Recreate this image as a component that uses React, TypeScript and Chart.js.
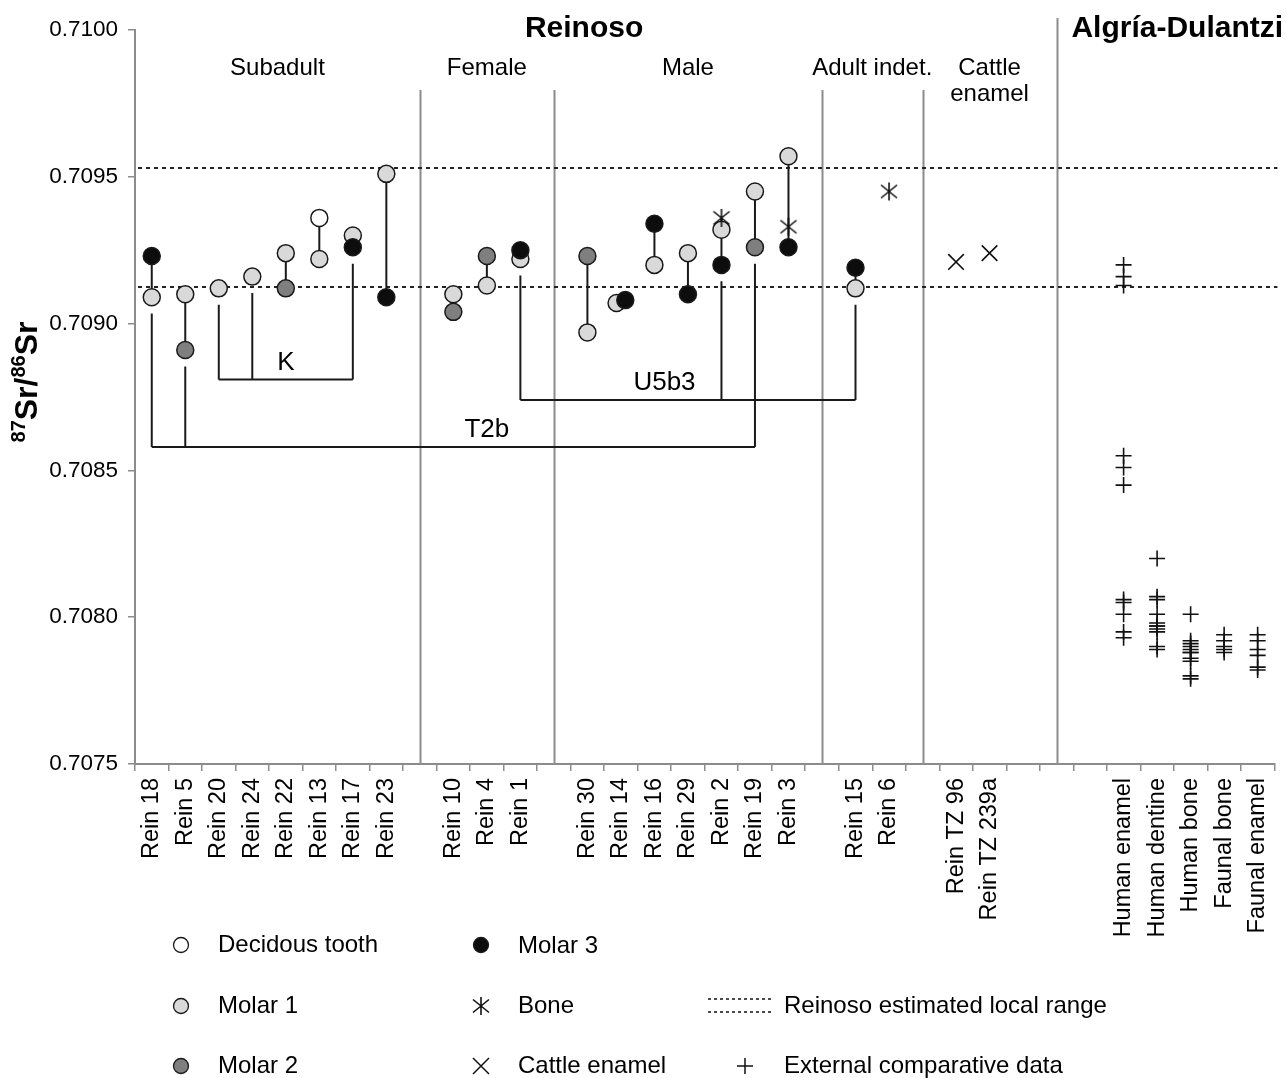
import React, { useEffect, useRef } from 'react';
import { Chart, registerables } from 'chart.js';

Chart.register(...registerables);

// ---------- data ----------
const categories: string[] = [
  'Rein 18', 'Rein 5', 'Rein 20', 'Rein 24', 'Rein 22', 'Rein 13', 'Rein 17', 'Rein 23', '',
  'Rein 10', 'Rein 4', 'Rein 1', '',
  'Rein 30', 'Rein 14', 'Rein 16', 'Rein 29', 'Rein 2', 'Rein 19', 'Rein 3', '',
  'Rein 15', 'Rein 6', '',
  'Rein TZ 96', 'Rein TZ 239a', '', '', '',
  'Human enamel', 'Human dentine', 'Human bone', 'Faunal bone', 'Faunal enamel',
];

const yTicks: number[] = [0.7075, 0.708, 0.7085, 0.709, 0.7095, 0.71];

type Pt = [string, number];

const decidous: Pt[] = [['Rein 13', 0.70936]];

const molar1: Pt[] = [
  ['Rein 18', 0.70909], ['Rein 5', 0.7091], ['Rein 20', 0.70912], ['Rein 24', 0.70916],
  ['Rein 22', 0.70924], ['Rein 13', 0.70922], ['Rein 17', 0.7093], ['Rein 23', 0.70951],
  ['Rein 10', 0.7091], ['Rein 4', 0.70913], ['Rein 1', 0.70922], ['Rein 30', 0.70897],
  ['Rein 14', 0.70907], ['Rein 16', 0.7092], ['Rein 29', 0.70924], ['Rein 2', 0.70932],
  ['Rein 19', 0.70945], ['Rein 3', 0.70957], ['Rein 15', 0.70912],
];

const molar2: Pt[] = [
  ['Rein 5', 0.70891], ['Rein 22', 0.70912], ['Rein 10', 0.70904], ['Rein 4', 0.70923],
  ['Rein 30', 0.70923], ['Rein 19', 0.70926],
];

const molar3: Pt[] = [
  ['Rein 18', 0.70923], ['Rein 17', 0.70926], ['Rein 23', 0.70909], ['Rein 1', 0.70925],
  ['Rein 14', 0.70908], ['Rein 16', 0.70934], ['Rein 29', 0.7091], ['Rein 2', 0.7092],
  ['Rein 3', 0.70926], ['Rein 15', 0.70919],
];

const bone: Pt[] = [['Rein 2', 0.70936], ['Rein 3', 0.70933], ['Rein 6', 0.70945]];

const cattleEnamel: Pt[] = [['Rein TZ 96', 0.70921], ['Rein TZ 239a', 0.70924]];

const humanEnamel: number[] = [0.7092, 0.70916, 0.70913, 0.70855, 0.70851, 0.70845, 0.70806, 0.70805, 0.70801, 0.70795, 0.70793];
const humanDentine: number[] = [0.7082, 0.70807, 0.70806, 0.70801, 0.70798, 0.70797, 0.70797, 0.70796, 0.70795, 0.7079, 0.70789];
const humanBone: number[] = [0.70801, 0.70792, 0.70791, 0.7079, 0.70789, 0.70788, 0.70788, 0.70786, 0.70785, 0.7078, 0.70779];
const faunalBone: number[] = [0.70794, 0.70792, 0.7079, 0.70789, 0.70788];
const faunalEnamel: number[] = [0.70794, 0.70792, 0.70789, 0.70787, 0.70783, 0.70782];

const externalSets: [string, number[]][] = [
  ['Human enamel', humanEnamel], ['Human dentine', humanDentine], ['Human bone', humanBone],
  ['Faunal bone', faunalBone], ['Faunal enamel', faunalEnamel],
];

const localRange: number[] = [0.709125, 0.70953];

const haplogroups = [
  { name: 'K', members: ['Rein 20', 'Rein 24', 'Rein 17'], level: 0.70881 },
  { name: 'T2b', members: ['Rein 18', 'Rein 5', 'Rein 19'], level: 0.70858 },
  { name: 'U5b3', members: ['Rein 1', 'Rein 2', 'Rein 15'], level: 0.70874 },
];
const haploLabelAt: number[] = [4.0, 10.0, 15.3];

const groupLabels: string[][] = [['Subadult'], ['Female'], ['Male'], ['Adult indet.'], ['Cattle', 'enamel']];
const separatorIdx: number[] = [8, 12, 20, 23, 27];
const siteTitles: string[] = ['Reinoso', 'Algría-Dulantzi'];
const siteTitleAt: number[] = [12.9, 30.6];

// small horizontal nudge of overlapping markers (category units)
const nudge: Record<string, number> = { 'Rein 14|m1': -0.13, 'Rein 14|m3': 0.13 };

// ---------- styles ----------
const FONT = "'Liberation Sans', Arial, sans-serif";
const AXIS_GRAY = '#8c8c8c';
const INK = '#111111';
const C_WHITE = '#ffffff';
const C_M1 = '#d9d9d9';
const C_M2 = '#7f7f7f';
const C_M3 = '#0d0d0d';

function makeBoneImage(color: string): HTMLCanvasElement {
  const size = 22;
  const c = document.createElement('canvas');
  c.width = size;
  c.height = size;
  const g = c.getContext('2d')!;
  g.strokeStyle = color;
  g.lineWidth = 1.6;
  const m = size / 2;
  g.beginPath();
  g.moveTo(m, m - 9); g.lineTo(m, m + 9);
  g.moveTo(m - 8, m - 6.5); g.lineTo(m + 8, m + 6.5);
  g.moveTo(m + 8, m - 6.5); g.lineTo(m - 8, m + 6.5);
  g.stroke();
  return c;
}

const idx = (c: string) => categories.indexOf(c);

export default function App() {
  const ref = useRef<HTMLCanvasElement>(null);

  useEffect(() => {
    const canvas = ref.current!;
    const boneImg = makeBoneImage(INK);

    const toPts = (arr: Pt[], key: string) =>
      arr.map(([c, v]) => ({ x: idx(c) + (nudge[`${c}|${key}`] ?? 0), y: v }));

    const circleSet = (label: string, data: any[], fill: string, order: number) => ({
      label, data, showLine: false, order,
      pointStyle: 'circle', pointRadius: 8.5, pointHoverRadius: 8.5,
      pointBackgroundColor: fill, pointBorderColor: '#1a1a1a', pointBorderWidth: 1.5,
      xAxisID: 'xv',
    });

    const lineSet = (data: any[]) => ({
      data, showLine: true, pointRadius: 0, borderColor: '#1a1a1a', borderWidth: 2,
      order: 10, xAxisID: 'xv', fill: false, tension: 0,
    });

    const reinAll: Pt[] = [...decidous, ...molar1, ...molar2, ...molar3, ...bone];
    const valsOf = (c: string) => reinAll.filter((p) => p[0] === c).map((p) => p[1]);
    const reinCats = Array.from(new Set(reinAll.map((p) => p[0])));

    const connectors = reinCats
      .filter((c) => valsOf(c).length > 1)
      .map((c) => lineSet([
        { x: idx(c), y: Math.min(...valsOf(c)) },
        { x: idx(c), y: Math.max(...valsOf(c)) },
      ]));

    const gapBelow = 0.000056;
    const brackets: any[] = [];
    haplogroups.forEach((h) => {
      h.members.forEach((m) => {
        brackets.push(lineSet([
          { x: idx(m), y: Math.min(...valsOf(m)) - gapBelow },
          { x: idx(m), y: h.level },
        ]));
      });
      const ids = h.members.map(idx);
      brackets.push(lineSet([
        { x: Math.min(...ids), y: h.level },
        { x: Math.max(...ids), y: h.level },
      ]));
    });

    const externalData = externalSets.flatMap(([c, vals]) => vals.map((v) => ({ x: idx(c), y: v })));

    const datasets: any[] = [
      circleSet('Decidous tooth', toPts(decidous, 'd'), C_WHITE, 4),
      circleSet('Molar 1', toPts(molar1, 'm1'), C_M1, 3),
      circleSet('Molar 2', toPts(molar2, 'm2'), C_M2, 2),
      circleSet('Molar 3', toPts(molar3, 'm3'), C_M3, 1),
      {
        label: 'Bone', data: toPts(bone, 'b'), showLine: false, order: 0, xAxisID: 'xv',
        pointStyle: boneImg, pointRadius: 10,
      },
      {
        label: 'Cattle enamel', data: toPts(cattleEnamel, 'c'), showLine: false, order: 0, xAxisID: 'xv',
        pointStyle: 'crossRot', pointRadius: 11, pointBorderColor: INK, pointBorderWidth: 1.6,
        pointBackgroundColor: INK,
      },
      {
        label: 'External comparative data', data: externalData, showLine: false, order: 0, xAxisID: 'xv',
        pointStyle: 'cross', pointRadius: 8, pointBorderColor: INK, pointBorderWidth: 1.6,
        pointBackgroundColor: INK,
      },
      ...connectors,
      ...brackets,
    ];

    const drawCircle = (ctx: CanvasRenderingContext2D, x: number, y: number, r: number, fill: string) => {
      ctx.beginPath();
      ctx.arc(x, y, r, 0, Math.PI * 2);
      ctx.fillStyle = fill;
      ctx.fill();
      ctx.lineWidth = 1.3;
      ctx.strokeStyle = '#1a1a1a';
      ctx.stroke();
    };

    const decor = {
      id: 'decor',
      beforeDatasetsDraw(chart: any) {
        const ctx: CanvasRenderingContext2D = chart.ctx;
        const xs = chart.scales.xv;
        const ys = chart.scales.y;
        const { left, right, top, bottom } = chart.chartArea;
        ctx.save();
        // separators
        ctx.strokeStyle = AXIS_GRAY;
        ctx.lineWidth = 2;
        separatorIdx.forEach((i, k) => {
          const x = Math.round(xs.getPixelForValue(i)) + 0.5;
          const y0 = k === separatorIdx.length - 1 ? top - 12 : top + 60;
          ctx.beginPath();
          ctx.moveTo(x, y0);
          ctx.lineTo(x, bottom);
          ctx.stroke();
        });
        // local range dotted lines
        ctx.strokeStyle = '#222';
        ctx.lineWidth = 2;
        ctx.setLineDash([4, 4]);
        localRange.forEach((v) => {
          const y = Math.round(ys.getPixelForValue(v));
          ctx.beginPath();
          ctx.moveTo(left + 3, y);
          ctx.lineTo(right + 3, y);
          ctx.stroke();
        });
        ctx.restore();
      },
      afterDraw(chart: any) {
        const ctx: CanvasRenderingContext2D = chart.ctx;
        const xs = chart.scales.xv;
        const ys = chart.scales.y;
        const { left, top } = chart.chartArea;
        ctx.save();
        ctx.fillStyle = '#000';
        ctx.textAlign = 'center';
        ctx.textBaseline = 'middle';

        // site titles
        ctx.font = `bold 30px ${FONT}`;
        siteTitles.forEach((t, i) => ctx.fillText(t, xs.getPixelForValue(siteTitleAt[i]), top - 1));

        // group labels
        ctx.font = `24px ${FONT}`;
        const bounds = [left, ...separatorIdx.map((i) => xs.getPixelForValue(i))];
        groupLabels.forEach((lines, i) => {
          const cx = (bounds[i] + bounds[i + 1]) / 2;
          lines.forEach((ln, j) => ctx.fillText(ln, cx, top + 38 + j * 26));
        });

        // haplogroup labels
        ctx.font = `26px ${FONT}`;
        haplogroups.forEach((h, i) => {
          ctx.fillText(h.name, xs.getPixelForValue(haploLabelAt[i]), ys.getPixelForValue(h.level) - 17);
        });

        // y-axis title 87Sr/86Sr
        ctx.save();
        ctx.translate(37, 382);
        ctx.rotate(-Math.PI / 2);
        ctx.textAlign = 'left';
        ctx.textBaseline = 'alphabetic';
        const big = `bold 32px ${FONT}`;
        const sup = `bold 20px ${FONT}`;
        const parts: [string, string, number][] = [
          ['87', sup, -12], ['Sr/', big, 0], ['86', sup, -12], ['Sr', big, 0],
        ];
        let total = 0;
        parts.forEach(([s, f]) => { ctx.font = f; total += ctx.measureText(s).width; });
        let cx = -total / 2;
        parts.forEach(([s, f, dy]) => {
          ctx.font = f;
          ctx.fillText(s, cx, dy);
          cx += ctx.measureText(s).width;
        });
        ctx.restore();

        // legend
        ctx.textAlign = 'left';
        ctx.textBaseline = 'middle';
        ctx.font = `24px ${FONT}`;
        const rows = [945, 1006, 1066];
        const col1 = 181, col2 = 481;
        drawCircle(ctx, col1, rows[0], 7.5, C_WHITE);
        drawCircle(ctx, col1, rows[1], 7.5, C_M1);
        drawCircle(ctx, col1, rows[2], 7.5, C_M2);
        drawCircle(ctx, col2, rows[0], 7.5, C_M3);
        ctx.fillStyle = '#000';
        ctx.fillText('Decidous tooth', 218, rows[0]);
        ctx.fillText('Molar 1', 218, rows[1]);
        ctx.fillText('Molar 2', 218, rows[2]);
        ctx.fillText('Molar 3', 518, rows[0] + 1);
        ctx.drawImage(boneImg, col2 - 11, rows[1] - 11);
        ctx.fillText('Bone', 518, rows[1]);
        ctx.strokeStyle = INK;
        ctx.lineWidth = 1.5;
        ctx.beginPath();
        ctx.moveTo(col2 - 8, rows[2] - 8); ctx.lineTo(col2 + 8, rows[2] + 8);
        ctx.moveTo(col2 + 8, rows[2] - 8); ctx.lineTo(col2 - 8, rows[2] + 8);
        ctx.stroke();
        ctx.fillText('Cattle enamel', 518, rows[2]);
        ctx.setLineDash([3, 3]);
        ctx.lineWidth = 1.5;
        [rows[1] - 7, rows[1] + 6].forEach((y) => {
          ctx.beginPath();
          ctx.moveTo(708, y); ctx.lineTo(771, y);
          ctx.stroke();
        });
        ctx.setLineDash([]);
        ctx.fillText('Reinoso estimated local range', 784, rows[1]);
        ctx.beginPath();
        ctx.moveTo(737, rows[2]); ctx.lineTo(753, rows[2]);
        ctx.moveTo(745, rows[2] - 8); ctx.lineTo(745, rows[2] + 8);
        ctx.stroke();
        ctx.fillText('External comparative data', 784, rows[2]);
        ctx.restore();
      },
    };

    const chart = new Chart(canvas, {
      type: 'scatter',
      data: { labels: categories, datasets },
      plugins: [decor],
      options: {
        animation: false,
        responsive: false,
        events: [],
        devicePixelRatio: 1,
        layout: { padding: { top: 30, right: 5, left: 0, bottom: 0 } },
        plugins: { legend: { display: false }, tooltip: { enabled: false } },
        scales: {
          x: {
            type: 'category',
            labels: categories,
            min: 0,
            max: categories.length - 1,
            offset: true,
            position: 'bottom',
            grid: { offset: true, drawOnChartArea: false, drawTicks: true, tickLength: 7, color: AXIS_GRAY, lineWidth: 1.5 },
            border: { display: true, color: AXIS_GRAY, width: 2 },
            ticks: {
              autoSkip: false, minRotation: 90, maxRotation: 90, padding: 7,
              color: '#000', font: { family: FONT, size: 23.5 },
            },
            afterFit: (s: any) => { s.height = 314; s.paddingLeft = 0; s.paddingRight = 0; },
          },
          xv: {
            type: 'linear',
            display: false,
            min: -0.5,
            max: categories.length - 0.5,
          },
          y: {
            type: 'linear',
            min: yTicks[0],
            max: yTicks[yTicks.length - 1],
            grid: { drawOnChartArea: false, drawTicks: true, tickLength: 7, color: AXIS_GRAY, lineWidth: 1.5 },
            border: { display: true, color: AXIS_GRAY, width: 2 },
            afterBuildTicks: (s: any) => { s.ticks = yTicks.map((v) => ({ value: v })); },
            ticks: {
              padding: 10, color: '#000', font: { family: FONT, size: 22.5 },
              callback: (v: any) => Number(v).toFixed(4),
            },
            afterFit: (s: any) => { s.width = 135; },
          },
        },
      } as any,
    });

    return () => chart.destroy();
  }, []);

  return (
    <div style={{ position: 'absolute', left: 0, top: 0, width: 1287, height: 1078, background: '#fff' }}>
      <canvas ref={ref} width={1287} height={1078} style={{ width: 1287, height: 1078, display: 'block' }} />
    </div>
  );
}
